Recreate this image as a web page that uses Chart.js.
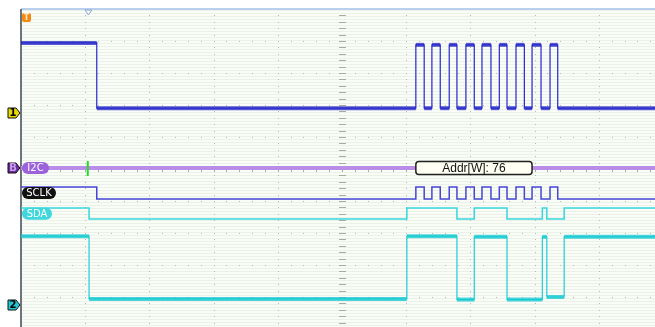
<!DOCTYPE html>
<html>
<head>
<meta charset="utf-8">
<script src="https://cdn.jsdelivr.net/npm/chart.js@4.4.0/dist/chart.umd.min.js"></script>
<style>
  html, body { margin: 0; padding: 0; background: #ffffff; overflow: hidden; }
  #scope { display: block; }
</style>
</head>
<body>
<canvas id="scope" width="655" height="327"></canvas>
<script>
// x in screen divisions (0..10), y in divisions from the bottom
const ch1Times  = [0, 1.18, 6.15, 6.28, 6.40, 6.53, 6.67, 6.79, 6.93, 7.06, 7.18, 7.32, 7.45, 7.57, 7.71, 7.84, 7.96, 8.10, 8.24, 8.36, 9.88];
const ch1Levels = [8.94, 6.90, 8.88, 6.90, 8.88, 6.90, 8.88, 6.90, 8.88, 6.90, 8.88, 6.90, 8.88, 6.90, 8.88, 6.90, 8.88, 6.90, 8.88, 6.90, 6.90];

const sclkTimes  = [0, 1.18, 6.15, 6.28, 6.40, 6.53, 6.67, 6.79, 6.93, 7.06, 7.18, 7.32, 7.45, 7.57, 7.71, 7.84, 7.96, 8.10, 8.24, 8.36, 9.88];
const sclkLevels = [4.44, 4.06, 4.44, 4.06, 4.44, 4.06, 4.44, 4.06, 4.44, 4.06, 4.44, 4.06, 4.44, 4.06, 4.44, 4.06, 4.44, 4.06, 4.44, 4.06, 4.06];

const sdaTimes  = [0, 1.06, 6.01, 6.79, 7.06, 7.57, 8.12, 8.19, 8.46, 9.88];
const sdaLevels = [3.78, 3.44, 3.78, 3.44, 3.78, 3.44, 3.78, 3.44, 3.78, 3.78];

const ch2Times  = [0, 1.06, 6.01, 6.79, 7.06, 7.57, 8.12, 8.19, 8.46, 9.88];
const ch2Levels = [2.90, 0.94, 2.90, 0.92, 2.88, 0.92, 2.88, 1.00, 2.88, 2.88];

const busLevel = 5.03;
const busFrames = [{ start: 6.15, end: 7.96, text: "Addr[W]: 76" }];
const busStartMark = 1.04;
const triggerPos = 1.05;

const busLabels = [
  { text: "I2C",  y: 5.03, w: 27, bg: "#9b62dc" },
  { text: "SCLK", y: 4.25, w: 34, bg: "#111111" },
  { text: "SDA",  y: 3.6,  w: 30, bg: "#3fd6dc" },
];
const chMarkers = [
  { text: "1",  y: 6.75, bg: "#e6d800", fg: "#000000" },
  { text: "B",  y: 5.03, bg: "#6c2a9c", fg: "#c9a0f0" },
  { text: "2",  y: 0.75, bg: "#22c6cf", fg: "#000000" },
];

function pts(times, levels) {
  return times.map((t, i) => ({ x: t, y: levels[i] }));
}

// flat pieces only, used for the thick noise band of the analog traces
function flats(times, levels) {
  const out = [];
  for (let i = 0; i < times.length - 1; i++) {
    out.push({ x: times[i], y: levels[i] });
    out.push({ x: times[i + 1], y: levels[i] });
  }
  return out;
}

function bandSegment(color) {
  return {
    borderColor: (c) => (c.p0.parsed.y === c.p1.parsed.y ? color : "rgba(0,0,0,0)"),
  };
}

function roundRect(ctx, x, y, w, h, r) {
  ctx.beginPath();
  ctx.moveTo(x + r, y);
  ctx.lineTo(x + w - r, y);
  ctx.arcTo(x + w, y, x + w, y + r, r);
  ctx.lineTo(x + w, y + h - r);
  ctx.arcTo(x + w, y + h, x + w - r, y + h, r);
  ctx.lineTo(x + r, y + h);
  ctx.arcTo(x, y + h, x, y + h - r, r);
  ctx.lineTo(x, y + r);
  ctx.arcTo(x, y, x + r, y, r);
  ctx.closePath();
}

const gridPlugin = {
  id: "scopeGrid",
  beforeDatasetsDraw(chart) {
    const { ctx, chartArea: a, scales } = chart;
    const xs = scales.x, ys = scales.y;
    ctx.save();
    ctx.fillStyle = "#fafcf8";
    ctx.fillRect(a.left, a.top, a.right - a.left, a.bottom - a.top);
    ctx.fillStyle = "rgba(214,230,210,0.45)";
    for (let y = a.top + 1; y < a.bottom; y += 3) {
      ctx.fillRect(a.left, y, a.right - a.left, 1);
    }
    ctx.fillStyle = "#b4b8b4";
    for (let i = 1; i < 10; i++) {
      const px = Math.round(xs.getPixelForValue(i));
      for (let v = 0; v <= 10; v += 0.2) {
        ctx.fillRect(px, Math.round(ys.getPixelForValue(v)), 1, 1);
      }
    }
    for (let j = 1; j < 10; j++) {
      const py = Math.round(ys.getPixelForValue(j));
      for (let u = 0; u <= 10; u += 0.2) {
        ctx.fillRect(Math.round(xs.getPixelForValue(u)), py, 1, 1);
      }
    }
    // centre cross ticks
    ctx.fillStyle = "#a8aca0";
    const cx = Math.round(xs.getPixelForValue(5));
    for (let v = 0; v <= 10; v += 0.2) {
      ctx.fillRect(cx - 3, Math.round(ys.getPixelForValue(v)), 7, 1);
    }
    const cy = Math.round(ys.getPixelForValue(5));
    for (let u = 0; u <= 10; u += 0.2) {
      ctx.fillRect(Math.round(xs.getPixelForValue(u)), cy - 2, 1, 5);
    }
    // top and left borders
    ctx.fillStyle = "#b8cff0";
    ctx.fillRect(a.left, a.top - 1, a.right - a.left, 2);
    ctx.fillStyle = "#6c747c";
    ctx.fillRect(a.left - 1, a.top, 2, a.bottom - a.top);
    ctx.restore();
  },
  afterDatasetsDraw(chart) {
    const { ctx, chartArea: a, scales } = chart;
    const xs = scales.x, ys = scales.y;
    ctx.save();
    // bus start marker
    const gx = xs.getPixelForValue(busStartMark);
    const by = ys.getPixelForValue(busLevel);
    ctx.fillStyle = "#22dd22";
    ctx.fillRect(gx - 1, by - 7, 2, 15);

    // decoded frames
    busFrames.forEach((f) => {
      const x0 = xs.getPixelForValue(f.start), x1 = xs.getPixelForValue(f.end);
      roundRect(ctx, x0, by - 6.5, x1 - x0, 13, 3);
      ctx.fillStyle = "#fefef2";
      ctx.fill();
      ctx.lineWidth = 1.5;
      ctx.strokeStyle = "#222222";
      ctx.stroke();
      ctx.fillStyle = "#111111";
      ctx.font = "12px 'Liberation Sans', Arial, sans-serif";
      ctx.textAlign = "center";
      ctx.textBaseline = "middle";
      ctx.fillText(f.text, (x0 + x1) / 2, by + 0.5);
    });

    // bus labels
    busLabels.forEach((l) => {
      const py = ys.getPixelForValue(l.y);
      roundRect(ctx, a.left + 1, py - 6, l.w, 12, 6);
      ctx.fillStyle = l.bg;
      ctx.fill();
      ctx.fillStyle = "#ffffff";
      ctx.font = "10px 'DejaVu Sans', sans-serif";
      ctx.textAlign = "center";
      ctx.textBaseline = "middle";
      ctx.fillText(l.text, a.left + 1 + l.w / 2, py + 0.5);
    });

    // channel markers on the left
    chMarkers.forEach((m) => {
      const py = Math.round(ys.getPixelForValue(m.y));
      ctx.beginPath();
      ctx.moveTo(8, py - 5);
      ctx.lineTo(16, py - 5);
      ctx.lineTo(20, py);
      ctx.lineTo(16, py + 5);
      ctx.lineTo(8, py + 5);
      ctx.closePath();
      ctx.fillStyle = m.bg;
      ctx.fill();
      ctx.lineWidth = 1;
      ctx.strokeStyle = "#111111";
      ctx.stroke();
      ctx.fillStyle = m.fg;
      ctx.font = "bold 10px 'DejaVu Sans', sans-serif";
      ctx.textAlign = "center";
      ctx.textBaseline = "middle";
      ctx.fillText(m.text, 13, py + 0.5);
    });

    // trigger level and position markers
    roundRect(ctx, a.left + 1, a.top + 4, 9, 9, 2);
    ctx.fillStyle = "#f28a10";
    ctx.fill();
    ctx.fillStyle = "#ffe8c8";
    ctx.font = "bold 8px 'DejaVu Sans', sans-serif";
    ctx.textAlign = "center";
    ctx.textBaseline = "middle";
    ctx.fillText("T", a.left + 5.5, a.top + 8.5);
    const tx = xs.getPixelForValue(triggerPos);
    ctx.beginPath();
    ctx.moveTo(tx - 3.5, a.top + 1);
    ctx.lineTo(tx + 3.5, a.top + 1);
    ctx.lineTo(tx, a.top + 6);
    ctx.closePath();
    ctx.lineWidth = 1;
    ctx.strokeStyle = "#8aa6d6";
    ctx.stroke();
    ctx.restore();
  },
};

const ctx = document.getElementById("scope").getContext("2d");
new Chart(ctx, {
  type: "line",
  data: {
    datasets: [
      { data: flats(ch1Times, ch1Levels), borderWidth: 4, segment: bandSegment("rgba(36,36,200,0.75)") },
      { data: pts(ch1Times, ch1Levels), stepped: true, borderColor: "#2626d0", borderWidth: 1.2 },
      { data: flats(ch2Times, ch2Levels), borderWidth: 4, segment: bandSegment("rgba(16,200,210,0.75)") },
      { data: pts(ch2Times, ch2Levels), stepped: true, borderColor: "#22cdd5", borderWidth: 1.2 },
      { data: [{ x: 0, y: busLevel }, { x: 9.88, y: busLevel }], borderColor: "#b98ce8", borderWidth: 4 },
      { data: [{ x: 0, y: busLevel }, { x: 9.88, y: busLevel }], borderColor: "#8a58c8", borderWidth: 1, borderDash: [4, 3] },
      { data: pts(sclkTimes, sclkLevels), stepped: true, borderColor: "#4646d6", borderWidth: 1.5 },
      { data: pts(sdaTimes, sdaLevels), stepped: true, borderColor: "#36d6de", borderWidth: 1.5 },
    ],
  },
  options: {
    responsive: false,
    animation: false,
    layout: { padding: { left: 21, top: 9, right: 0, bottom: 0 } },
    elements: { point: { radius: 0 } },
    plugins: { legend: { display: false }, tooltip: { enabled: false } },
    scales: {
      x: { type: "linear", min: 0, max: 9.875, display: false },
      y: { type: "linear", min: 0.0625, max: 10, display: false },
    },
  },
  plugins: [gridPlugin],
});
</script>
</body>
</html>
